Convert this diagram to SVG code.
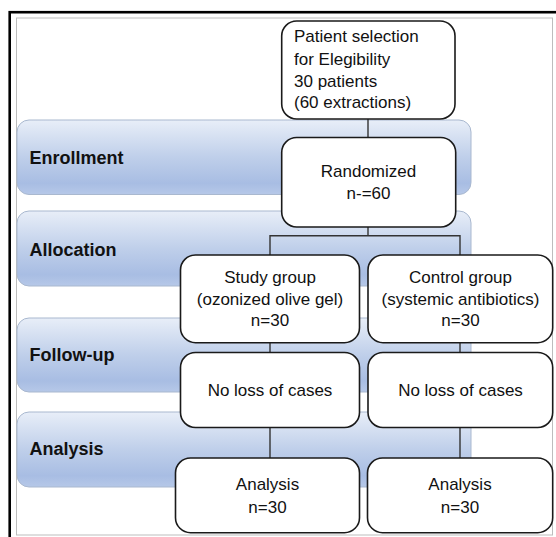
<svg xmlns="http://www.w3.org/2000/svg" width="556" height="537" viewBox="0 0 556 537">
<defs>
<linearGradient id="bandGrad" x1="0" y1="0" x2="0" y2="1">
<stop offset="0" stop-color="#e8eef8"/>
<stop offset="0.5" stop-color="#bfcfea"/>
<stop offset="0.85" stop-color="#a8bde3"/>
<stop offset="1" stop-color="#b6c8e8"/>
</linearGradient>
</defs>
<style>
.band{fill:url(#bandGrad);stroke:#a9b8cf;stroke-width:1}
.lbl{font-family:"Liberation Sans",Arial,sans-serif;font-weight:bold;font-size:18px;fill:#111}
.box{fill:#fff;stroke:#1a1a1a;stroke-width:1.6}
.t{font-family:"Liberation Sans",Arial,sans-serif;font-size:17px;fill:#111}
.c{text-anchor:middle}
.conn{fill:none;stroke:#333;stroke-width:1.4}
</style>
<rect x="0" y="0" width="556" height="537" fill="#fff"/>
<rect x="9.7" y="12.2" width="560" height="540" fill="none" stroke="#000" stroke-width="2.6"/>
<rect x="16.5" y="18" width="536" height="517" fill="none" stroke="#bdbdbd" stroke-width="1"/>
<g id="bands">
<g id="band-enrollment"><rect class="band" x="17" y="120" width="454" height="74.5" rx="12"/><text class="lbl" x="29.5" y="164">Enrollment</text></g>
<g id="band-allocation"><rect class="band" x="17" y="211" width="454" height="75" rx="12"/><text class="lbl" x="29.5" y="256">Allocation</text></g>
<g id="band-followup"><rect class="band" x="17" y="318" width="454" height="74" rx="12"/><text class="lbl" x="29.5" y="361">Follow-up</text></g>
<g id="band-analysis"><rect class="band" x="17" y="412" width="454" height="75" rx="12"/><text class="lbl" x="29.5" y="455">Analysis</text></g>
</g>
<g id="connectors">
<line class="conn" x1="368" y1="119" x2="368" y2="137.5"/>
<polyline class="conn" points="368,227 368,235.7"/>
<polyline class="conn" points="270,255 270,235.7 460,235.7 460,255"/>
<line class="conn" x1="270" y1="342.7" x2="270" y2="352.5"/>
<line class="conn" x1="460" y1="342.7" x2="460" y2="352.5"/>
<line class="conn" x1="270" y1="427.5" x2="270" y2="458"/>
<line class="conn" x1="460" y1="427.5" x2="460" y2="458"/>
</g>
<g id="node-selection">
<rect class="box" x="281.7" y="21" width="173.3" height="98" rx="15"/>
<text class="t" x="294" y="42.3">Patient selection</text>
<text class="t" x="294" y="64.5">for Elegibility</text>
<text class="t" x="294" y="86.5">30 patients</text>
<text class="t" x="294" y="108.3">(60 extractions)</text>
</g>
<g id="node-randomized">
<rect class="box" x="281.7" y="137.5" width="174" height="89.5" rx="15"/>
<text class="t c" x="368.5" y="177.3">Randomized</text>
<text class="t c" x="368.5" y="199.3">n-=60</text>
</g>
<g id="node-study">
<rect class="box" x="180.5" y="255" width="179" height="87.7" rx="15"/>
<text class="t c" x="270" y="283.3">Study group</text>
<text class="t c" x="270" y="305">(ozonized olive gel)</text>
<text class="t c" x="270" y="326">n=30</text>
</g>
<g id="node-control">
<rect class="box" x="368" y="255" width="184.7" height="87.7" rx="15"/>
<text class="t c" x="460.5" y="283.3">Control group</text>
<text class="t c" x="460.5" y="305">(systemic antibiotics)</text>
<text class="t c" x="460.5" y="326">n=30</text>
</g>
<g id="node-noloss-study">
<rect class="box" x="180.5" y="352.5" width="179" height="75" rx="15"/>
<text class="t c" x="270" y="395.7">No loss of cases</text>
</g>
<g id="node-noloss-control">
<rect class="box" x="368" y="352.5" width="184.7" height="75" rx="15"/>
<text class="t c" x="460.5" y="395.7">No loss of cases</text>
</g>
<g id="node-analysis-study">
<rect class="box" x="175.5" y="458" width="184" height="74.7" rx="15"/>
<text class="t c" x="267.5" y="490">Analysis</text>
<text class="t c" x="267.5" y="512.7">n=30</text>
</g>
<g id="node-analysis-control">
<rect class="box" x="367.5" y="458" width="185.2" height="74.7" rx="15"/>
<text class="t c" x="460" y="490">Analysis</text>
<text class="t c" x="460" y="512.7">n=30</text>
</g>
</svg>
